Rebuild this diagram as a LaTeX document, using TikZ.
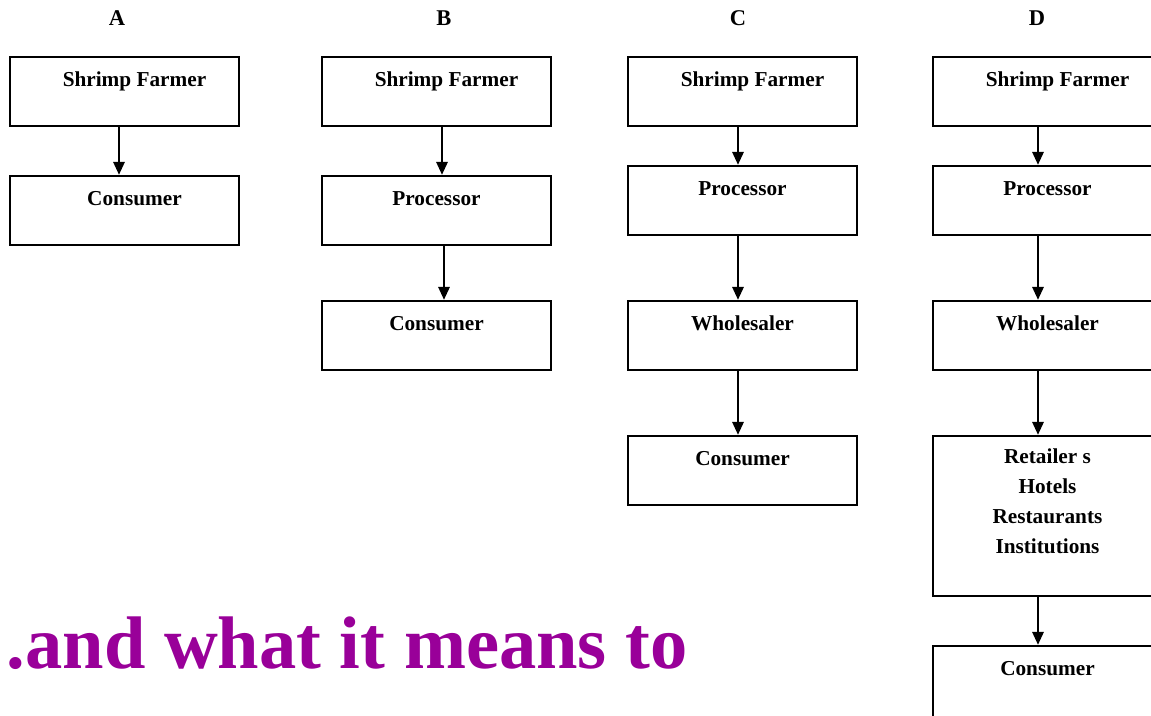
\documentclass[tikz,border=0pt]{standalone}
\usepackage{fontspec}
\setmainfont{Liberation Serif}
\usepackage{tikz}
\usetikzlibrary{arrows.meta, positioning}
\definecolor{headpurple}{RGB}{153, 0, 153}

\begin{document}
\begin{tikzpicture}[
    stage/.style={draw, line width=0.6pt, minimum width=2.29cm, inner sep=0pt, text height=0.29cm, text depth=0.40cm, align=center, font=\fontsize{6.05}{8.5}\selectfont\bfseries},
    title/.style={anchor=base, font=\fontsize{6.4}{7}\selectfont\bfseries},
    arrow/.style={-{Triangle[length=1.3mm, width=1.1mm]}, line width=0.8pt}
]
\clip (0,0) rectangle (11.51,7.15);

% Column titles
\node[title] (titleA) at (1.17,6.90) {A};
\node[title] (titleB) at (4.44,6.90) {B};
\node[title] (titleC) at (7.38,6.90) {C};
\node[title] (titleD) at (10.37,6.90) {D};

% Column A
\node[stage] (a1) at (1.245,6.235) {\hspace*{0.2cm}Shrimp Farmer};
\node[stage] (a2) at (1.245,5.045) {\hspace*{0.2cm}Consumer};

% Column B
\node[stage] (b1) at (4.365,6.235) {\hspace*{0.2cm}Shrimp Farmer};
\node[stage] (b2) at (4.365,5.045) {Processor};
\node[stage] (b3) at (4.365,3.795) {Consumer};

% Column C
\node[stage] (c1) at (7.425,6.235) {\hspace*{0.2cm}Shrimp Farmer};
\node[stage] (c2) at (7.425,5.145) {Processor};
\node[stage] (c3) at (7.425,3.795) {Wholesaler};
\node[stage] (c4) at (7.425,2.445) {Consumer};

% Column D
\node[stage] (d1) at (10.475,6.235) {\hspace*{0.2cm}Shrimp Farmer};
\node[stage] (d2) at (10.475,5.145) {Processor};
\node[stage] (d3) at (10.475,3.795) {Wholesaler};
\node[stage, text height=1.17cm, text depth=0.43cm] (d4) at (10.475,1.99) {Retailer s\\Hotels\\Restaurants\\Institutions};
\node[stage, text depth=0.45cm] (d5) at (10.475,0.32) {Consumer};

% Arrows
\draw[arrow] ([xshift=-0.055cm]a1.south) -- ([xshift=-0.055cm]a2.north);
\draw[arrow] ([xshift=0.055cm]b1.south) -- ([xshift=0.055cm]b2.north);
\draw[arrow] ([xshift=0.075cm]b2.south) -- ([xshift=0.075cm]b3.north);
\draw[arrow] ([xshift=-0.045cm]c1.south) -- ([xshift=-0.045cm]c2.north);
\draw[arrow] ([xshift=-0.045cm]c2.south) -- ([xshift=-0.045cm]c3.north);
\draw[arrow] ([xshift=-0.045cm]c3.south) -- ([xshift=-0.045cm]c4.north);
\draw[arrow] ([xshift=-0.095cm]d1.south) -- ([xshift=-0.095cm]d2.north);
\draw[arrow] ([xshift=-0.095cm]d2.south) -- ([xshift=-0.095cm]d3.north);
\draw[arrow] ([xshift=-0.095cm]d3.south) -- ([xshift=-0.095cm]d4.north);
\draw[arrow] ([xshift=-0.095cm]d4.south) -- ([xshift=-0.095cm]d5.north);

% Heading text
\node[anchor=base west, inner sep=0pt, text=headpurple, font=\fontsize{21.2}{26}\selectfont\bfseries] (heading) at (0.06,0.47) {.and what it means to};

\end{tikzpicture}
\end{document}
